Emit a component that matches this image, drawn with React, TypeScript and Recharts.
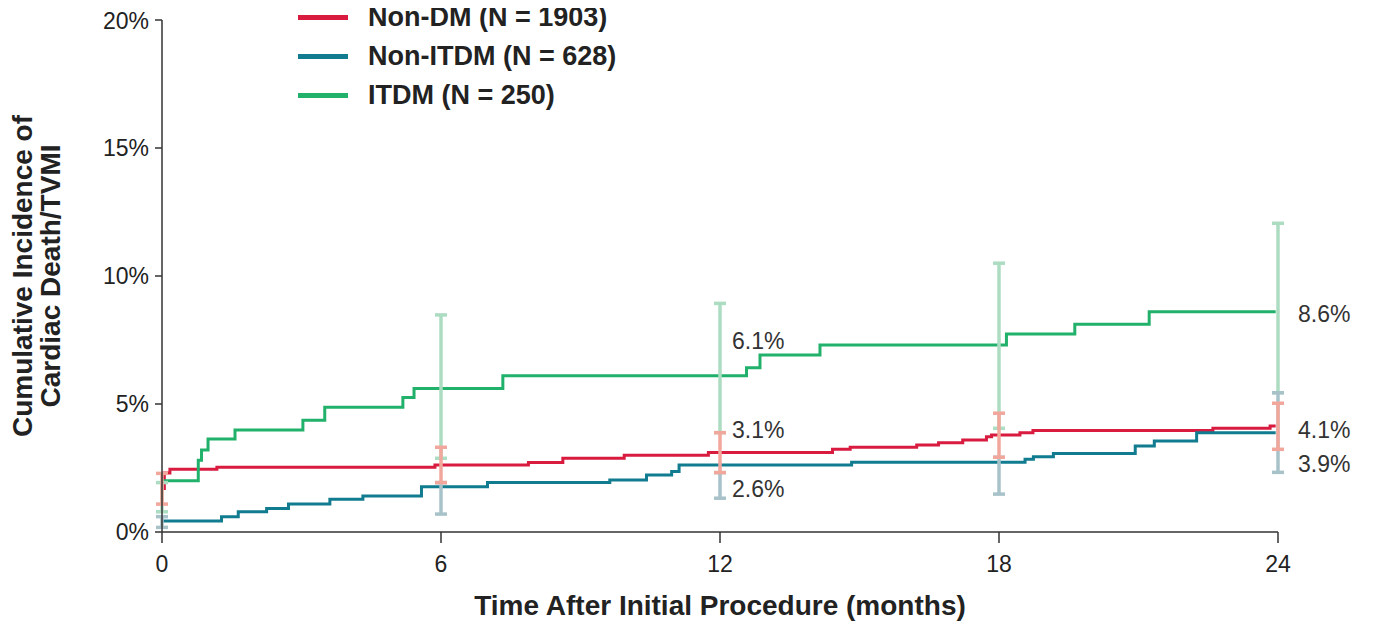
import {
  ComposedChart,
  ErrorBar,
  Legend,
  Line,
  ReferenceDot,
  Scatter,
  XAxis,
  YAxis,
} from "recharts";

const MONTH_TICKS = [0, 6, 12, 18, 24];
const PCT_TICKS = [0, 5, 10, 15, 20];

// Kaplan-Meier style step curves: month where a step begins, cumulative incidence (%) from there on
const NON_DM_MONTHS = [0, 0.05, 0.17, 1.18, 5.87, 7.88, 8.62, 9.94, 11.75, 14.42, 14.8, 16.23, 16.7, 17.22, 17.73, 17.84, 18.45, 18.73, 22.6, 23.83, 23.95];
const NON_DM_PCT = [1.7, 2.3, 2.45, 2.53, 2.62, 2.71, 2.88, 3.0, 3.11, 3.23, 3.31, 3.4, 3.49, 3.59, 3.72, 3.79, 3.88, 3.96, 4.05, 4.14, 4.14];

const NON_ITDM_MONTHS = [0, 1.28, 1.64, 2.25, 2.72, 3.61, 4.32, 5.58, 7.0, 9.63, 10.42, 10.96, 11.12, 14.83, 18.56, 18.74, 19.17, 20.93, 21.34, 22.25, 23.95];
const NON_ITDM_PCT = [0.43, 0.6, 0.79, 0.92, 1.09, 1.28, 1.41, 1.77, 1.93, 2.03, 2.23, 2.36, 2.62, 2.72, 2.84, 2.94, 3.07, 3.36, 3.55, 3.88, 3.88];

const ITDM_MONTHS = [0, 0.78, 0.85, 0.99, 1.57, 3.03, 3.5, 5.18, 5.42, 7.33, 12.57, 12.86, 14.15, 18.16, 19.63, 21.23, 23.95];
const ITDM_PCT = [2.0, 2.8, 3.2, 3.63, 3.98, 4.37, 4.87, 5.25, 5.61, 6.1, 6.42, 6.91, 7.3, 7.73, 8.12, 8.6, 8.6];

// 95% CI at the landmark months
const CI_MONTHS = [0, 6, 12, 18, 24];
const NON_DM_LOW = [1.09, 1.93, 2.32, 2.92, 3.23];
const NON_DM_HIGH = [2.29, 3.31, 3.88, 4.64, 5.03];
const NON_ITDM_LOW = [0.18, 0.7, 1.32, 1.48, 2.33];
const NON_ITDM_HIGH = [0.6, 1.93, 2.32, 2.92, 5.44];
const ITDM_LOW = [0.79, 2.88, 3.88, 4.05, 5.44];
const ITDM_HIGH = [1.93, 8.48, 8.93, 10.5, 12.06];

const NOTE_MONTHS = [12, 12, 12, 24, 24, 24];
const NOTE_TEXT = ["6.1%", "3.1%", "2.6%", "8.6%", "4.1%", "3.9%"];
const NOTE_AT = [7.46, 3.98, 1.68, 8.52, 3.98, 2.66];

const FONT = '"Liberation Sans", Arial, Helvetica, sans-serif';

const toSteps = (months: number[], pct: number[]) =>
  months.map((x, i) => ({ x, y: pct[i] }));

const toCi = (low: number[], high: number[]) =>
  CI_MONTHS.map((x, i) => {
    const mid = (low[i] + high[i]) / 2;
    return { x, y: mid, err: [mid - low[i], high[i] - mid] };
  });

const SERIES = [
  { name: "Non-DM (N = 1903)", color: "#d81b3f", light: "#f2a79c", steps: toSteps(NON_DM_MONTHS, NON_DM_PCT), ci: toCi(NON_DM_LOW, NON_DM_HIGH) },
  { name: "Non-ITDM (N = 628)", color: "#117c8f", light: "#a8c2ca", steps: toSteps(NON_ITDM_MONTHS, NON_ITDM_PCT), ci: toCi(NON_ITDM_LOW, NON_ITDM_HIGH) },
  { name: "ITDM (N = 250)", color: "#21b16b", light: "#acdcc1", steps: toSteps(ITDM_MONTHS, ITDM_PCT), ci: toCi(ITDM_LOW, ITDM_HIGH) },
];

// green bars sit underneath, red on top
const CI_ORDER = [2, 1, 0];

function YTitle({ viewBox }: any) {
  const yMid = viewBox.y + viewBox.height / 2;
  return (
    <text
      transform={`translate(24, ${yMid}) rotate(-90)`}
      textAnchor="middle"
      fontSize={28}
      fontWeight={700}
      fill="#222"
    >
      <tspan x={0} y={0}>Cumulative Incidence of</tspan>
      <tspan x={0} y={28}>Cardiac Death/TVMI</tspan>
    </text>
  );
}

function XTitle({ viewBox }: any) {
  return (
    <text
      x={viewBox.x + viewBox.width / 2}
      y={viewBox.y + 83}
      textAnchor="middle"
      fontSize={28}
      fontWeight={700}
      fill="#222"
    >
      Time After Initial Procedure (months)
    </text>
  );
}

function LegendBox() {
  return (
    <div>
      {SERIES.map((s) => (
        <div key={s.name} style={{ display: "flex", alignItems: "center", height: 39 }}>
          <span style={{ display: "inline-block", width: 50, height: 5, background: s.color, marginRight: 20 }} />
          <span style={{ fontSize: 27, fontWeight: 700, color: "#222", whiteSpace: "nowrap" }}>{s.name}</span>
        </div>
      ))}
    </div>
  );
}

export default function App() {
  return (
    <div style={{ fontFamily: FONT }}>
      <ComposedChart width={1360} height={620} margin={{ top: 12, right: 90, bottom: 6, left: 0 }}>
        <XAxis
          type="number"
          dataKey="x"
          domain={[0, 24]}
          ticks={MONTH_TICKS}
          height={90}
          tickSize={11}
          tickMargin={13}
          tick={{ fontSize: 23, fill: "#222" }}
          axisLine={{ stroke: "#333", strokeWidth: 1.5 }}
          tickLine={{ stroke: "#333", strokeWidth: 1.5 }}
          label={{ content: XTitle }}
        />
        <YAxis
          type="number"
          domain={[0, 20]}
          ticks={PCT_TICKS}
          width={154}
          tickSize={7}
          tickMargin={6}
          tickFormatter={(v: number) => `${v}%`}
          tick={{ fontSize: 23, fill: "#222" }}
          axisLine={{ stroke: "#333", strokeWidth: 1.5 }}
          tickLine={{ stroke: "#333", strokeWidth: 1.5 }}
          label={{ content: YTitle }}
        />
        <Legend
          layout="vertical"
          align="center"
          verticalAlign="middle"
          wrapperStyle={{ top: -10, left: 290, width: "auto" }}
          content={LegendBox}
        />
        {SERIES.map((s) => (
          <Line
            key={s.name}
            name={s.name}
            data={s.steps}
            dataKey="y"
            type="stepAfter"
            stroke={s.color}
            strokeWidth={3}
            dot={false}
            activeDot={false}
            isAnimationActive={false}
          />
        ))}
        {CI_ORDER.map((i) => (
          <Scatter
            key={`ci-${i}`}
            data={SERIES[i].ci}
            dataKey="y"
            legendType="none"
            shape={() => <g />}
            isAnimationActive={false}
          >
            <ErrorBar
              dataKey="err"
              direction="y"
              width={6}
              stroke={SERIES[i].light}
              strokeWidth={3.5}
              isAnimationActive={false}
            />
          </Scatter>
        ))}
        {NOTE_TEXT.map((t, i) => (
          <ReferenceDot
            key={`note-${i}`}
            x={NOTE_MONTHS[i]}
            y={NOTE_AT[i]}
            r={0}
            fill="none"
            stroke="none"
            label={{
              value: t,
              position: "right",
              offset: NOTE_MONTHS[i] === 24 ? 20 : 12,
              fill: "#333",
              fontSize: 23,
            }}
          />
        ))}
      </ComposedChart>
    </div>
  );
}
